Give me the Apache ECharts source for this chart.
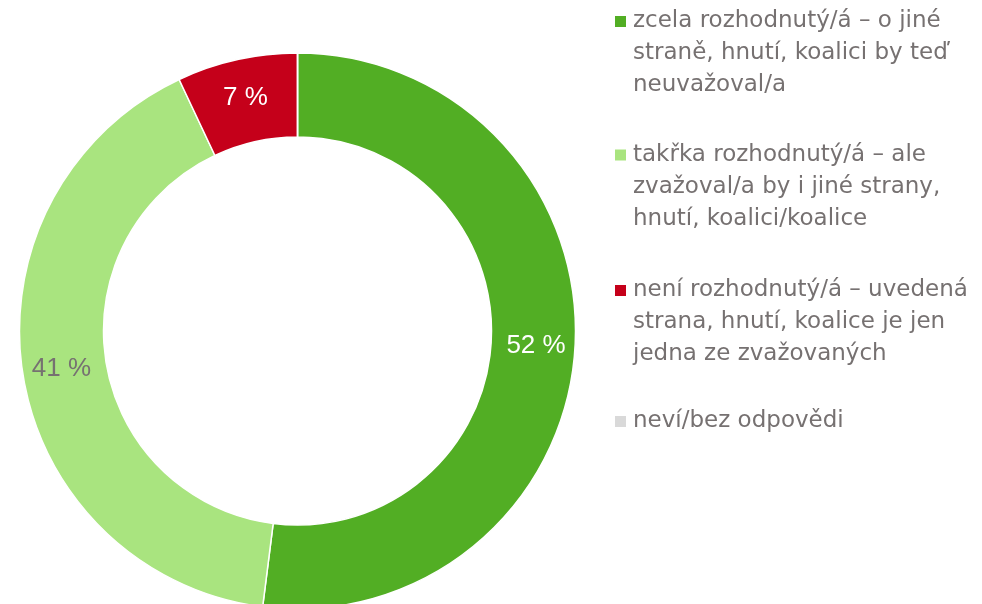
<!DOCTYPE html>
<html>
<head>
<meta charset="utf-8">
<script src="https://cdn.jsdelivr.net/npm/echarts@6/dist/echarts.min.js"></script>
<style>
  html, body { margin: 0; padding: 0; background: #fff; }
  #chart { width: 982px; height: 604px; }
</style>
</head>
<body>
<div id="chart"></div>
<script>
// kategorie (zalomené jako v legendě)
const categories = [
  'zcela rozhodnutý/á – o jiné\nstraně, hnutí, koalici by teď\nneuvažoval/a',
  'takřka rozhodnutý/á – ale\nzvažoval/a by i jiné strany,\nhnutí, koalici/koalice',
  'není rozhodnutý/á – uvedená\nstrana, hnutí, koalice je jen\njedna ze zvažovaných',
  'neví/bez odpovědi'
]
const values = [52, 41, 7, 0]
const colors = ['#52ae24', '#a9e47f', '#c5001a', '#d9d9d9']
const labelColors = ['#ffffff', '#767171', '#ffffff', '#767171']

const font = "Arial, 'Liberation Sans', sans-serif"
const legendFont = "'DejaVu Sans', sans-serif"
const textGray = '#767171'

// svislé středy ikon legendy
const legendIconY = [21.5, 155, 290.5, 421.5]

const legends = categories.map((name, i) => {
  const lines = name.split('\n').length
  // prázdné řádky navrch, aby ikona seděla u prvního řádku
  const prefix = '\n'.repeat(lines - 1)
  const half = (2 * lines - 1) * 32 / 2
  return {
    data: [name],
    orient: 'vertical',
    left: 615,
    top: legendIconY[i] - half,
    padding: 0,
    itemWidth: 11,
    itemHeight: 11,
    icon: 'rect',
    itemStyle: { borderWidth: 0 },
    selectedMode: false,
    formatter: n => prefix + n,
    textStyle: {
      fontFamily: legendFont,
      fontSize: 23,
      color: textGray,
      lineHeight: 32,
      padding: [0, 0, 0, 2]
    }
  }
})

const myChart = echarts.init(document.getElementById('chart'))
myChart.setOption({
  animation: false,
  color: colors,
  legend: legends,
  series: [
    {
      type: 'pie',
      center: [297.5, 331],
      radius: [194, 278],
      startAngle: 90,
      clockwise: true,
      avoidLabelOverlap: false,
      itemStyle: { borderColor: '#ffffff', borderWidth: 1.5 },
      label: {
        show: true,
        position: 'inside',
        formatter: '{c} %',
        fontFamily: font,
        fontSize: 26
      },
      labelLine: { show: false },
      emphasis: { disabled: true },
      data: categories.map((name, i) => ({
        name: name,
        value: values[i],
        label: values[i] > 0 ? { color: labelColors[i] } : { show: false }
      }))
    }
  ]
})
</script>
</body>
</html>
